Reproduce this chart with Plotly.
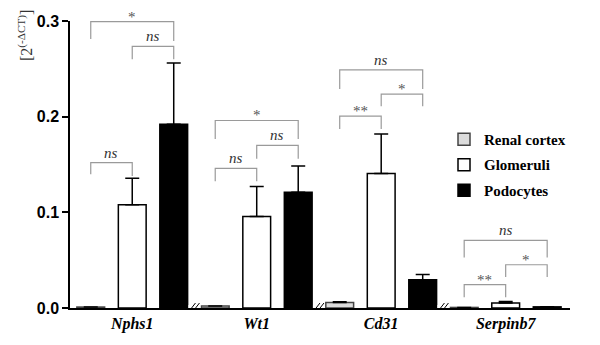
import plotly.graph_objects as go

genes = ["Nphs1", "Wt1", "Cd31", "Serpinb7"]
series = ["Renal cortex", "Glomeruli", "Podocytes"]
values = {
    "Renal cortex": [0.001, 0.002, 0.0058, 0.0006],
    "Glomeruli":    [0.108, 0.0956, 0.1407, 0.0051],
    "Podocytes":    [0.192, 0.121, 0.0295, 0.0012],
}
errors = {
    "Renal cortex": [0.0, 0.0, 0.0008, 0.0],
    "Glomeruli":    [0.0276, 0.0314, 0.0413, 0.0017],
    "Podocytes":    [0.064, 0.0275, 0.0055, 0.0],
}
fills = {"Renal cortex": "#dcdcdc", "Glomeruli": "#ffffff", "Podocytes": "#000000"}
edges = {"Renal cortex": "#444444", "Glomeruli": "#000000", "Podocytes": "#000000"}

# significance brackets: gene index, from series, to series, bar height, left end, right end, label
br_gene  = [0, 0, 0, 1, 1, 1, 2, 2, 2, 3, 3, 3]
br_from  = [0, 1, 0, 0, 1, 0, 0, 1, 0, 0, 1, 0]
br_to    = [2, 2, 1, 2, 2, 1, 2, 2, 1, 2, 2, 1]
br_y     = [0.2994, 0.2735, 0.1519, 0.196, 0.170, 0.146, 0.249, 0.2235, 0.2005, 0.0706, 0.0452, 0.0245]
br_left  = [0.2813, 0.2600, 0.1397, 0.1767, 0.156, 0.1325, 0.229, 0.211, 0.187, 0.0527, 0.0323, 0.0112]
br_right = [0.2790, 0.2600, 0.1380, 0.1767, 0.156, 0.1325, 0.229, 0.211, 0.187, 0.0527, 0.0323, 0.0112]
br_label = ["*", "ns", "ns", "*", "ns", "ns", "ns", "*", "**", "ns", "*", "**"]

y_ticks = [0.0, 0.1, 0.2, 0.3]

SERIF = "Liberation Serif"
SANS = "Liberation Sans"

n_s = len(series)
fig = go.Figure()
for si, s in enumerate(series):
    xs = [gi * n_s + si for gi in range(len(genes))]
    fig.add_trace(go.Bar(
        x=xs, y=values[s], name=f"<b>{s}</b>", width=0.67,
        marker=dict(color=fills[s], line=dict(color=edges[s], width=1.5)),
        error_y=dict(type="data", array=errors[s], arrayminus=[0]*len(genes),
                     symmetric=False, color="#000000", thickness=1.5, width=7),
        legendgroup=s,
    ))

shapes = []
annotations = []
for g, a, b, yt, yl, yr, lab in zip(br_gene, br_from, br_to, br_y, br_left, br_right, br_label):
    xa = g * n_s + a
    xb = g * n_s + b
    shapes.append(dict(type="path", xref="x", yref="y",
                       path=f"M{xa},{yl} L{xa},{yt} L{xb},{yt} L{xb},{yr}",
                       line=dict(color="#9a9a9a", width=1.2), layer="above"))
    if lab == "ns":
        annotations.append(dict(x=(xa + xb) / 2, y=yt, xref="x", yref="y", text=f"<i>{lab}</i>",
                                showarrow=False, yanchor="bottom", yshift=0,
                                font=dict(family=SERIF, size=15, color="#333333")))
    else:
        annotations.append(dict(x=(xa + xb) / 2, y=yt, xref="x", yref="y", text=lab,
                                showarrow=False, yanchor="bottom", yshift=-5,
                                font=dict(family=SERIF, size=15, color="#555555")))

# axis breaks between gene groups
for gi in range(1, len(genes)):
    xc = gi * n_s - 0.5
    shapes.append(dict(type="rect", xref="x", yref="y", xsizemode="pixel", ysizemode="pixel",
                       xanchor=xc, yanchor=0, x0=-6, x1=6, y0=-3, y1=3,
                       fillcolor="white", line=dict(width=0), layer="above"))
    for dx in (-2.5, 1.5):
        shapes.append(dict(type="line", xref="x", yref="y", xsizemode="pixel", ysizemode="pixel",
                           xanchor=xc, yanchor=0, x0=dx - 3.5, x1=dx + 3.5, y0=-4, y1=5,
                           line=dict(color="#000000", width=1), layer="above"))

annotations.append(dict(x=-0.115, y=1.045, xref="paper", yref="paper", textangle=-90,
                        text="[2<sup>(-ΔCT)</sup>]", showarrow=False, yanchor="top",
                        font=dict(family=SERIF, size=16, color="#333333")))

fig.update_layout(
    width=600, height=345,
    margin=dict(l=70, r=30, t=21, b=30),
    plot_bgcolor="white", paper_bgcolor="white",
    barmode="overlay",
    showlegend=True,
    legend=dict(x=0.748, y=0.645, xanchor="left", yanchor="top", tracegroupgap=3,
                font=dict(family=SERIF, size=15, color="#000000"),
                bgcolor="rgba(0,0,0,0)"),
    xaxis=dict(range=[-0.5, 11.55], tickvals=[gi * n_s + 1 for gi in range(len(genes))],
               ticktext=[f"<b><i>{g}</i></b>" for g in genes],
               showline=True, linecolor="#000000", linewidth=1.5, ticks="",
               showgrid=False, zeroline=False,
               tickfont=dict(family=SERIF, size=16, color="#000000")),
    yaxis=dict(range=[0, 0.3], tickvals=y_ticks, ticktext=[f"<b>{v:.1f}</b>" for v in y_ticks],
               showline=True, linecolor="#000000", linewidth=1.5,
               ticks="outside", ticklen=6, tickwidth=1.5, tickcolor="#000000",
               showgrid=False, zeroline=False,
               tickfont=dict(family=SANS, size=16, color="#000000")),
    shapes=shapes, annotations=annotations,
)

fig.write_html("out.html")
